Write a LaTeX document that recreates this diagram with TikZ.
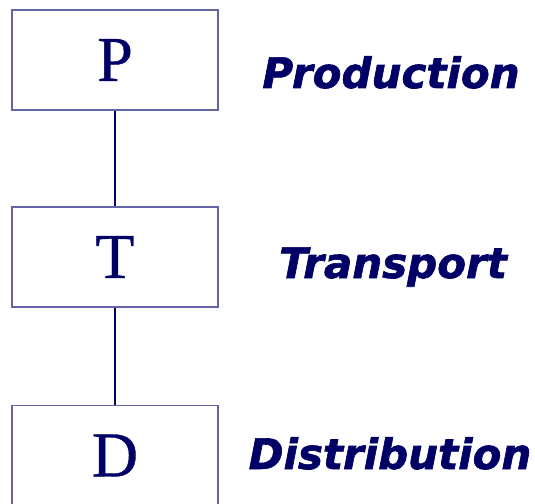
\documentclass[tikz,border=0pt]{standalone}
\usepackage{fontspec}
\usepackage{tikz}
\newfontfamily\boxfont{Liberation Serif}[FakeBold=0.6]
\newfontfamily\labelfont{DejaVu Sans}[BoldItalicFeatures={FakeBold=1.5}]
\definecolor{navyblue}{RGB}{0,0,102}
\definecolor{boxline}{RGB}{100,100,165}
\tikzset{-, font=\small}
\tikzset{stage/.style={shape=rectangle, draw=boxline, line width=1.4, fill=white,
    inner sep=0pt, minimum width=206, minimum height=100,
    text=navyblue, font=\boxfont\fontsize{64}{64}\selectfont}}
\tikzset{stagename/.style={anchor=base, inner sep=0pt, text=navyblue,
    font=\labelfont\bfseries\itshape\fontsize{42}{42}\selectfont}}

\begin{document}
\begin{tikzpicture}[x=1pt, y=-1pt]
      \useasboundingbox (0,0) rectangle (535,503);
      \begin{scope}
      \clip (0,0) rectangle (535,503);
      \node[stage] (P) at (115,60) {P};
      \node[stage] (T) at (115,257) {T};
      \node[stage] (D) at (115,455.5) {D};
      \draw[navyblue, line width=1.4] (P) -- (T);
      \draw[navyblue, line width=1.4] (T) -- (D);
      \end{scope}
      %%%%%%%%%
      \node[stagename] (prod) at (391,88) {Production};
      \node[stagename] (trans) at (393,278) {Transport};
      \node[stagename] (distr) at (390,469) {Distribution};
    \end{tikzpicture}
\end{document}
